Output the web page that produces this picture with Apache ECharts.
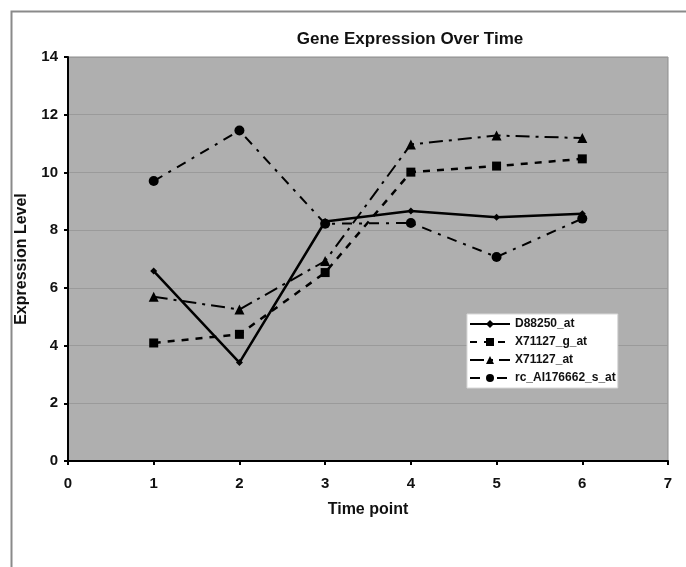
<!DOCTYPE html>
<html>
<head>
<meta charset="utf-8">
<script src="https://cdn.jsdelivr.net/npm/echarts@6/dist/echarts.min.js"></script>
<style>
html,body{margin:0;padding:0;background:#fff;}
#chart{width:686px;height:567px;}
</style>
</head>
<body>
<div id="chart"></div>
<script>
var timePoints = [1, 2, 3, 4, 5, 6];
var seriesNames = ['D88250_at', 'X71127_g_at', 'X71127_at', 'rc_AI176662_s_at'];
var d88250 = [6.58, 3.41, 8.3, 8.66, 8.45, 8.57];
var x71127g = [4.09, 4.39, 6.53, 10.01, 10.22, 10.47];
var x71127 = [5.69, 5.25, 6.93, 10.97, 11.28, 11.19];
var rcAI = [9.70, 11.45, 8.22, 8.25, 7.07, 8.40];

function pairs(vals) { return timePoints.map(function (t, i) { return [t, vals[i]]; }); }

var font = 'Liberation Sans, Arial, sans-serif';
var chart = echarts.init(document.getElementById('chart'));
chart.setOption({
  animation: false,
  backgroundColor: '#ffffff',
  graphic: [{
    type: 'rect', left: 9, top: 9, shape: { width: 700, height: 600 },
    style: { fill: 'none', stroke: '#8a8a8a', lineWidth: 2 }, z: -1
  }],
  title: {
    text: 'Gene Expression Over Time', left: 405, top: 26, textAlign: 'center',
    textStyle: { fontFamily: font, fontWeight: 'bold', fontSize: 17, color: '#111' }
  },
  grid: {
    left: 68, right: 18, top: 57, bottom: 106, show: true,
    backgroundColor: '#afafaf', borderColor: '#8c8c8c', borderWidth: 1
  },
  legend: {
    orient: 'vertical', left: 467, top: 314, data: seriesNames,
    backgroundColor: '#ffffff', borderColor: '#d8d8d8', borderWidth: 1,
    padding: [4, 2, 4, 2], itemWidth: 40, itemHeight: 10, itemGap: 6,
    textStyle: { fontFamily: font, fontWeight: 'bold', fontSize: 12, color: '#111' }
  },
  xAxis: {
    type: 'value', min: 0, max: 7, interval: 1,
    name: 'Time point', nameLocation: 'middle', nameGap: 41,
    nameTextStyle: { fontFamily: font, fontWeight: 'bold', fontSize: 16, color: '#111' },
    axisLine: { onZero: false, lineStyle: { color: '#000', width: 2 } },
    axisTick: { show: true, length: 4, lineStyle: { color: '#000', width: 2 } },
    axisLabel: { margin: 15, fontFamily: font, fontWeight: 'bold', fontSize: 15, color: '#111' },
    splitLine: { show: false }
  },
  yAxis: {
    type: 'value', min: 0, max: 14, interval: 2,
    name: 'Expression Level', nameLocation: 'middle', nameGap: 38,
    nameTextStyle: { fontFamily: font, fontWeight: 'bold', fontSize: 16, color: '#111' },
    axisLine: { show: true, onZero: false, lineStyle: { color: '#000', width: 2 } },
    axisTick: { show: true, length: 4, lineStyle: { color: '#000', width: 2 } },
    axisLabel: { margin: 10, fontFamily: font, fontWeight: 'bold', fontSize: 15, color: '#111' },
    splitLine: { show: true, lineStyle: { color: '#9a9a9a', width: 1 } }
  },
  series: [
    {
      name: seriesNames[0], type: 'line', data: pairs(d88250),
      symbol: 'diamond', symbolSize: 7, showSymbol: true,
      lineStyle: { color: '#000', width: 2.5, type: 'solid' },
      itemStyle: { color: '#000' }
    },
    {
      name: seriesNames[1], type: 'line', data: pairs(x71127g),
      symbol: 'rect', symbolSize: 9,
      lineStyle: { color: '#000', width: 2.5, type: [7, 7] },
      itemStyle: { color: '#000' }
    },
    {
      name: seriesNames[2], type: 'line', data: pairs(x71127),
      symbol: 'triangle', symbolSize: 10,
      lineStyle: { color: '#000', width: 2, type: [14, 6, 3, 6] },
      itemStyle: { color: '#000' }
    },
    {
      name: seriesNames[3], type: 'line', data: pairs(rcAI),
      symbol: 'circle', symbolSize: 10,
      lineStyle: { color: '#000', width: 2, type: [10, 7, 3, 7] },
      itemStyle: { color: '#000' }
    }
  ]
});
</script>
</body>
</html>
